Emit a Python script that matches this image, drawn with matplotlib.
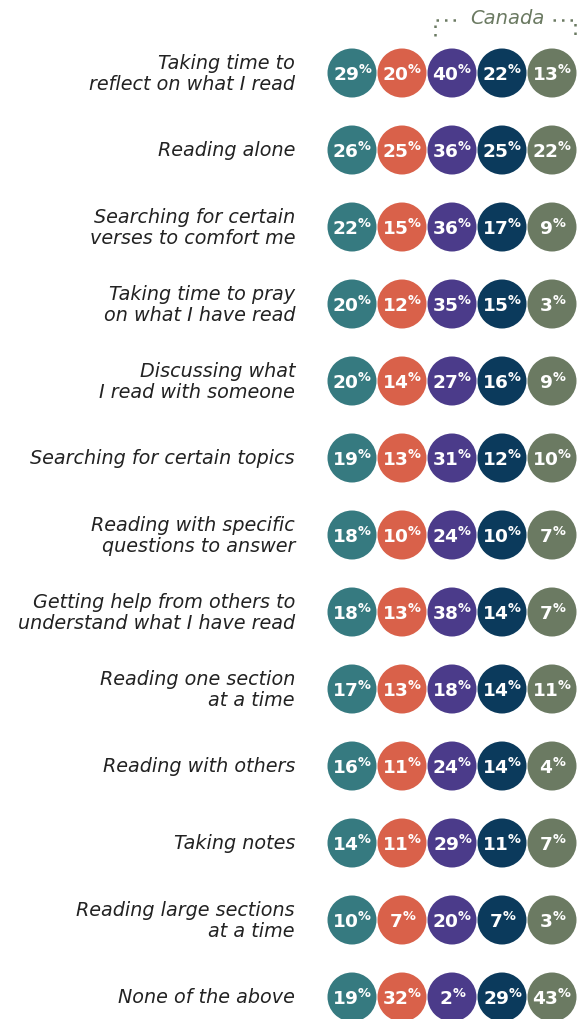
import matplotlib
matplotlib.use("Agg")
import matplotlib.pyplot as plt
from matplotlib.patches import Circle

labels = [
    "Taking time to\nreflect on what I read",
    "Reading alone",
    "Searching for certain\nverses to comfort me",
    "Taking time to pray\non what I have read",
    "Discussing what\nI read with someone",
    "Searching for certain topics",
    "Reading with specific\nquestions to answer",
    "Getting help from others to\nunderstand what I have read",
    "Reading one section\nat a time",
    "Reading with others",
    "Taking notes",
    "Reading large sections\nat a time",
    "None of the above",
]
s1 = [29, 26, 22, 20, 20, 19, 18, 18, 17, 16, 14, 10, 19]
s2 = [20, 25, 15, 12, 14, 13, 10, 13, 13, 11, 11, 7, 32]
s3 = [40, 36, 36, 35, 27, 31, 24, 38, 18, 24, 29, 20, 2]
s4 = [22, 25, 17, 15, 16, 12, 10, 14, 14, 14, 11, 7, 29]
s5 = [13, 22, 9, 3, 9, 10, 7, 7, 11, 4, 7, 3, 43]
series = [s1, s2, s3, s4, s5]
colors = ["#367a80", "#d9614a", "#4b3b8a", "#0b3a5c", "#6b7a62"]
group_label = "Canada"

plt.rcParams["mathtext.default"] = "regular"

W, H = 586, 1020
fig = plt.figure(figsize=(W / 100, H / 100), dpi=100)
ax = fig.add_axes([0, 0, 1, 1])
ax.set_xlim(0, W)
ax.set_ylim(H, 0)
ax.axis("off")

x0, dx = 352, 50
y0, dy = 74, 77
r = 24.5

for i, lab in enumerate(labels):
    y = y0 + i * dy
    ax.text(295, y, lab, ha="right", va="center", fontsize=13.8,
            family="DejaVu Sans", style="oblique",
            color="#222222", linespacing=1.12)
    for j, s in enumerate(series):
        x = x0 + j * dx
        ax.add_patch(Circle((x, y), r, color=colors[j], lw=0))
        ax.text(x + 0.5, y + 1, f"{s[i]}$^{{\\%}}$", ha="center", va="center",
                fontsize=13.3, color="white", fontweight="bold", family="DejaVu Sans")

# Canada bracket
bc = "#6b7a62"
ax.plot([435, 435, 460], [37, 21, 21], ls=(0, (1, 2.4)), color=bc, lw=1.8)
ax.plot([553, 575, 575], [21, 21, 37], ls=(0, (1, 2.4)), color=bc, lw=1.8)
ax.text(507, 19, group_label, ha="center", va="center", fontsize=14,
        style="oblique", color="#6b7a62", family="DejaVu Sans")

fig.savefig("out.png", dpi=100)
